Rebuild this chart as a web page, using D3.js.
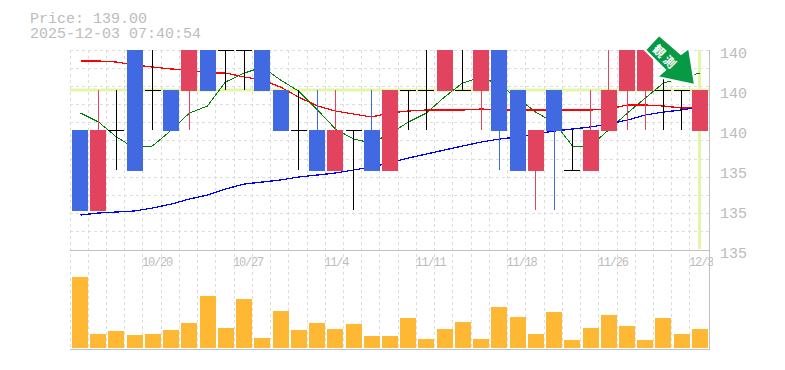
<!DOCTYPE html>
<html>
<head>
<meta charset="utf-8">
<script src="https://cdn.jsdelivr.net/npm/d3@7"></script>
<style>
  html, body { margin: 0; padding: 0; background: #fff; }
  svg { display: block; }
  text { font-family: "Liberation Mono", monospace; fill: #bcbcbc; }
</style>
</head>
<body>
<div id="chart"></div>
<script>
// open, close, high, low per session
var opens  = [138,136,138,140.5,139,139,139,141,140,140,140.5,139,138,138,137,138,138,137,139,139,139,139,139,141,139,137,139,137,137,138,139,139,139,139,138];
var closes = [136,138,138,137,139,138,140.5,139,140,140,139,138,138,137,138,138,137,139,139,139,140.5,139,140.5,138,137,138,138,137,138,139,140.5,140.5,139,139,139];
var highs  = [138,139,139,141,140.5,139,140.5,141,140,140,141,139,139,139,139,138,139,139,139,140.5,140.5,140.5,140.5,141,139,138,139,138,139,140.5,140.5,140.5,140.5,139,139];
var lows   = [136,136,137,137,138,138,138,139,139,139,139,138,137,137,137,136,137,137,138,138,139,139,138,137,137,136,136,137,137,138,138,138,138,138,138];
var ma5  = [138.425,138.2,137.825,137.55,137.6,138,138.425,138.6,139.2,139.425,139.575,139.25,138.975,138.5,138.025,137.775,137.675,137.9,138.2,138.425,138.825,139.175,139.325,139.125,138.8,138.45,138.175,137.6,137.6,138,138.425,138.8,139.175,139.3,139.425];
var ma25 = [139.725,139.725,139.7,139.625,139.575,139.525,139.5,139.425,139.425,139.325,139.25,139.075,138.825,138.6,138.475,138.4,138.325,138.425,138.475,138.5,138.5,138.5,138.525,138.5,138.5,138.5,138.5,138.5,138.5,138.525,138.625,138.625,138.6,138.55,138.55];
var ma75 = [135.875,135.925,135.95,135.975,136.05,136.15,136.275,136.375,136.525,136.65,136.7,136.75,136.825,136.875,136.925,137,137.075,137.175,137.3,137.4,137.5,137.6,137.7,137.775,137.825,137.9,137.975,138.025,138.075,138.15,138.25,138.375,138.45,138.5,138.575];
var volumes = [71,14,17,13,14,18,25,52,20,49,10,37,18,25,19,24,12,12,30,9,19,26,9,41,31,14,36,8,20,33,22,8,30,14,19];
var priceTicks = [140,139,138,137,136,135];
var priceTickLabels = ["140","140","140","135","135","135"];
var dateTicks = [4,9,14,19,24,29,34];
var dateTickLabels = ["10/20","10/27","11/4","11/11","11/18","11/26","12/3"];
var lastPrice = 139;
var titleLines = ["Price: 139.00","2025-12-03 07:40:54"];
var arrowLabel = "観測";

var chart = d3.select("#chart").append("svg").attr("width", 785).attr("height", 370);

var x = d3.scaleBand().domain(d3.range(opens.length)).range([70, 708.2]);
var y = d3.scaleLinear().domain([135, 140]).range([250, 50]);
var v = d3.scaleLinear().domain([0, 100]).range([348, 248]);

var cx = function(i) { return Math.floor(x(i) + 10) + 0.5; };
var UP = "#e2435f", DOWN = "#4169e1";

var defs = chart.append("defs");
defs.append("clipPath").attr("id", "plot")
  .append("rect").attr("x", 70).attr("y", 50).attr("width", 640).attr("height", 200);
defs.append("clipPath").attr("id", "dates")
  .append("rect").attr("x", 70).attr("y", 250).attr("width", 643).attr("height", 30);

// grid
var grid = chart.append("g").attr("stroke", "#ddd").attr("stroke-dasharray", "3,3").attr("shape-rendering", "crispEdges");
grid.selectAll(".gv").data(d3.range(opens.length)).enter().append("line")
  .attr("x1", function(d) { return x(d); })
  .attr("x2", function(d) { return x(d); })
  .attr("y1", 50).attr("y2", 350);
grid.selectAll(".gh").data(d3.range(11)).enter().append("line")
  .attr("x1", 70).attr("x2", 710)
  .attr("y1", function(d) { return y(140 - d * 5 / 11); })
  .attr("y2", function(d) { return y(140 - d * 5 / 11); });

// current price cross
chart.append("line").attr("x1", 70).attr("x2", 710).attr("y1", y(lastPrice)).attr("y2", y(lastPrice))
  .attr("stroke", "#e3f5a8").attr("stroke-width", 3);
chart.append("line").attr("x1", cx(34)).attr("x2", cx(34)).attr("y1", 50).attr("y2", 249)
  .attr("stroke", "#e3f5a8").attr("stroke-width", 3);

// moving averages
var plot = chart.append("g").attr("clip-path", "url(#plot)");
var line = d3.line()
  .x(function(d, i) { return cx(i); })
  .y(function(d) { return y(d); });
[[ma5, "#008000", 1], [ma25, "#ff0000", 1.25], [ma75, "#0000ff", 1.25]].forEach(function(s) {
  plot.append("path").datum(s[0])
    .attr("fill", "none")
    .attr("stroke", s[1])
    .attr("stroke-width", s[2])
    .attr("shape-rendering", "crispEdges")
    .attr("d", line);
});

// candles
var colorOf = function(i) {
  if (opens[i] === closes[i]) return "#000";
  return closes[i] > opens[i] ? UP : DOWN;
};
plot.selectAll(".wick").data(d3.range(opens.length)).enter().append("line")
  .attr("x1", cx).attr("x2", cx)
  .attr("y1", function(i) { return y(highs[i]); })
  .attr("y2", function(i) { return y(lows[i]); })
  .attr("stroke", colorOf).attr("stroke-width", 1).attr("shape-rendering", "crispEdges");
plot.selectAll(".body").data(d3.range(opens.length)).enter().append("rect")
  .attr("x", function(i) { return x(i) + 2; })
  .attr("width", 16)
  .attr("y", function(i) { return y(Math.max(opens[i], closes[i])); })
  .attr("height", function(i) { return Math.max(1, Math.abs(y(opens[i]) - y(closes[i])) + 1); })
  .attr("fill", colorOf).attr("shape-rendering", "crispEdges");

// volume
chart.selectAll(".vol").data(volumes).enter().append("rect")
  .attr("x", function(d, i) { return x(i) + 2; })
  .attr("width", 16)
  .attr("y", function(d) { return v(d); })
  .attr("height", function(d) { return v(0) - v(d); })
  .attr("fill", "#ffb833").attr("shape-rendering", "crispEdges");

// frame
var frame = chart.append("g").attr("stroke", "#c0c0c0").attr("shape-rendering", "crispEdges");
frame.append("line").attr("x1", 70).attr("x2", 710).attr("y1", 250).attr("y2", 250);
frame.append("line").attr("x1", 70).attr("x2", 710).attr("y1", 349.5).attr("y2", 349.5);
frame.append("line").attr("x1", 709.5).attr("x2", 709.5).attr("y1", 50).attr("y2", 350);

// axes text
chart.selectAll(".py").data(priceTicks).enter().append("text")
  .attr("x", 720).attr("y", function(d) { return y(d) + 8; })
  .attr("font-size", 15)
  .text(function(d, i) { return priceTickLabels[i]; });
chart.append("g").attr("clip-path", "url(#dates)")
  .selectAll(".dx").data(dateTicks).enter().append("text")
  .attr("x", function(d) { return x(d) - 1; }).attr("y", 266)
  .attr("font-size", 12).attr("letter-spacing", -1.2)
  .text(function(d, i) { return dateTickLabels[i]; });

chart.selectAll(".title").data(titleLines).enter().append("text")
  .attr("x", 30).attr("y", function(d, i) { return 23 + i * 15; })
  .attr("font-size", 15)
  .text(function(d) { return d; });

// arrow marker
var arrow = chart.append("g");
arrow.append("path")
  .attr("d", "M659,35L645,50L665,70L657,77L695,85L689,48L681,54Z")
  .attr("fill", "#079a45").attr("stroke", "#fff").attr("stroke-width", 2).attr("stroke-linejoin", "miter");
arrow.append("text")
  .attr("transform", "translate(665.5,57.5) rotate(45)")
  .attr("text-anchor", "middle").attr("dy", 4.5)
  .attr("font-size", 12).attr("font-weight", "bold").attr("letter-spacing", 3)
  .style("font-family", '"Noto Sans CJK JP"').style("fill", "#fff")
  .text(arrowLabel);
</script>
</body>
</html>
